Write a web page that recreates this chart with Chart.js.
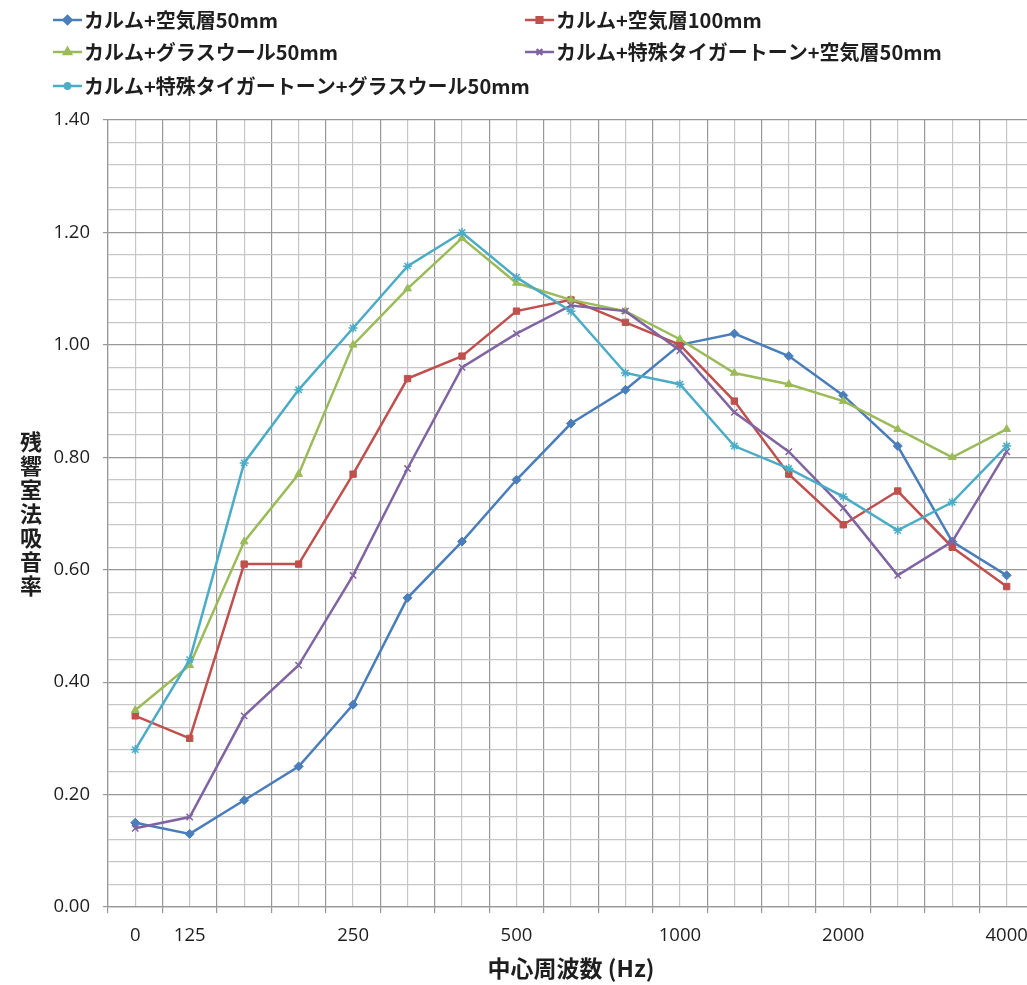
<!DOCTYPE html>
<html><head><meta charset="utf-8">
<style>html,body{margin:0;padding:0;background:#fff;overflow:hidden;width:1027px;height:985px}canvas{display:block}</style>
<script src="https://cdn.jsdelivr.net/npm/chart.js"></script>
</head><body>
<canvas id="c" width="1040" height="985"></canvas>
<script>
// ---- data ----
const frequencies = ['100','125','160','200','250','315','400','500','630','800','1000','1250','1600','2000','2500','3150','4000'];
const tickLabels = ['0','125','','','250','','','500','','','1000','','','2000','','','4000'];
const seriesNames = [
  'カルム+空気層50mm',
  'カルム+空気層100mm',
  'カルム+グラスウール50mm',
  'カルム+特殊タイガートーン+空気層50mm',
  'カルム+特殊タイガートーン+グラスウール50mm'
];
const air50      = [0.15,0.13,0.19,0.25,0.36,0.55,0.65,0.76,0.86,0.92,1.00,1.02,0.98,0.91,0.82,0.65,0.59];
const air100     = [0.34,0.30,0.61,0.61,0.77,0.94,0.98,1.06,1.08,1.04,1.00,0.90,0.77,0.68,0.74,0.64,0.57];
const glassWool  = [0.35,0.43,0.65,0.77,1.00,1.10,1.19,1.11,1.08,1.06,1.01,0.95,0.93,0.90,0.85,0.80,0.85];
const tigerAir   = [0.14,0.16,0.34,0.43,0.59,0.78,0.96,1.02,1.07,1.06,0.99,0.88,0.81,0.71,0.59,0.65,0.81];
const tigerGlass = [0.28,0.44,0.79,0.92,1.03,1.14,1.20,1.12,1.06,0.95,0.93,0.82,0.78,0.73,0.67,0.72,0.82];
const yTitle = '残響室法吸音率';
const xTitle = '中心周波数 (Hz)';

// ---- styles ----
const colors = ['#4a7ebb','#c0504d','#9bbb59','#8064a2','#4bacc6'];
const pointStyles = ['rectRot','rect','triangle','crossRot','star'];
const seriesValues = [air50, air100, glassWool, tigerAir, tigerGlass];
const MAJOR = '#979797';
const MINOR = '#c6c6c6';
const TEXT = '#1e1e1e';
const CJK = '"Noto Sans CJK JP", "Noto Sans", sans-serif';
const NUM = '"Open Sans", "DejaVu Sans", sans-serif';
const isMajor = v => Math.abs(v * 5 - Math.round(v * 5)) < 1e-6;

const datasets = seriesValues.map((vals, i) => ({
  label: seriesNames[i],
  data: vals,
  borderColor: colors[i],
  backgroundColor: colors[i],
  borderWidth: 2.5,
  pointStyle: pointStyles[i],
  pointRadius: 4.5,
  pointBorderWidth: i >= 3 ? 1.5 : 1,
  tension: 0,
  order: seriesValues.length - 1 - i,
  xAxisID: 'x',
  yAxisID: 'y'
}));

const decor = {
  id: 'decor',
  afterDraw(chart) {
    const ctx = chart.ctx;
    ctx.save();
    // legend
    const colX = [53, 525];
    const rowY = [20, 52, 86];
    const place = [[0,0],[1,0],[0,1],[1,1],[0,2]];
    chart.data.datasets.forEach((ds, i) => {
      const x0 = colX[place[i][0]], y = rowY[place[i][1]];
      ctx.strokeStyle = ds.borderColor;
      ctx.lineWidth = 2.5;
      ctx.beginPath(); ctx.moveTo(x0, y); ctx.lineTo(x0 + 29, y); ctx.stroke();
      if (Chart.helpers && Chart.helpers.drawPoint) {
        ctx.fillStyle = ds.backgroundColor;
        Chart.helpers.drawPoint(ctx, {pointStyle: ds.pointStyle, radius: 4, rotation: 0, borderWidth: ds.pointBorderWidth}, x0 + 14.5, y);
      }
      ctx.fillStyle = TEXT;
      ctx.font = 'bold 20px ' + CJK;
      ctx.textBaseline = 'middle';
      ctx.textAlign = 'left';
      ctx.fillText(ds.label, x0 + 31, y);
    });
    // vertical y title, upright stacked characters
    ctx.font = 'bold 22px ' + CJK;
    ctx.textAlign = 'center';
    ctx.textBaseline = 'middle';
    ctx.fillStyle = TEXT;
    const chars = Array.from(yTitle);
    const mid = (chart.chartArea.top + chart.chartArea.bottom) / 2;
    const step = 24;
    chars.forEach((ch, k) => {
      ctx.fillText(ch, 31, mid + (k - (chars.length - 1) / 2) * step);
    });
    ctx.restore();
  }
};

new Chart(document.getElementById('c'), {
  type: 'line',
  data: { labels: frequencies, datasets },
  options: {
    responsive: false,
    animation: false,
    layout: { padding: { top: 120, right: 6, bottom: 0, left: 0 } },
    plugins: { legend: { display: false }, tooltip: { enabled: false } },
    scales: {
      x: {
        type: 'category',
        position: 'bottom',
        offset: true,
        grid: { offset: true, color: MAJOR, lineWidth: 1.2, tickLength: 6, tickColor: MAJOR },
        border: { color: MAJOR, width: 1.2 },
        ticks: {
          autoSkip: false, maxRotation: 0, minRotation: 0, padding: 12,
          color: TEXT, font: { family: NUM, size: 18.5 },
          callback: (v, i) => tickLabels[i]
        },
        title: { display: true, text: xTitle, color: TEXT, font: { family: CJK, size: 23, weight: 'bold' }, padding: { top: 0, bottom: 3 } },
        afterFit: s => { s.height = 78; }
      },
      x2: {
        type: 'category',
        position: 'bottom',
        offset: true,
        grid: { offset: false, color: MINOR, lineWidth: 1.2, drawTicks: false },
        border: { display: false },
        ticks: { display: false },
        afterFit: s => { s.height = 0; }
      },
      y: {
        min: 0, max: 1.4,
        grid: {
          color: c => (c.tick && isMajor(c.tick.value)) ? MAJOR : MINOR,
          tickColor: c => (c.tick && isMajor(c.tick.value)) ? MAJOR : 'rgba(0,0,0,0)',
          tickLength: 5, lineWidth: 1.2
        },
        border: { color: MAJOR, width: 1.2 },
        ticks: {
          stepSize: 0.04, autoSkip: false, padding: 13,
          color: TEXT, font: { family: NUM, size: 18.5 },
          callback: v => isMajor(v) ? v.toFixed(2) : ''
        },
        afterFit: s => { s.width = 108; }
      }
    }
  },
  plugins: [decor]
});
</script>
</body></html>
